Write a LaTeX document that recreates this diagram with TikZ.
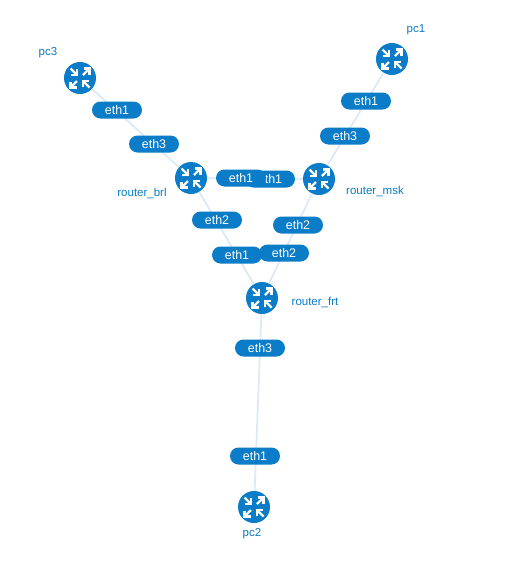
\documentclass[tikz,border=0pt]{standalone}
\usepackage{fontspec}
\setmainfont{Liberation Sans}
\definecolor{netblue}{HTML}{0A7CC8}
\definecolor{linkblue}{HTML}{DCEAF8}
\tikzset{
  x=1pt,y=-1pt,
  routernode/.style={circle,fill=netblue,minimum size=32pt,inner sep=0pt},
  namelabel/.style={text=netblue,font=\fontsize{11.5}{13}\selectfont,inner sep=0pt},
  portpill/.style={rounded corners=8.5pt,fill=netblue,text=white,minimum width=50pt,minimum height=17pt,inner sep=0pt,font=\fontsize{12.5}{14}\selectfont},
  linkline/.style={draw=linkblue,line width=1.8pt},
  glyph/.style={draw=white,line width=2.2pt,line cap=butt,join=miter},
  pics/routericon/.style={code={
    \draw[glyph] (-9.5,-9.5) -- (-3,-3);
    \draw[glyph] (-9,-3) -- (-3,-3) -- (-3,-9);
    \draw[glyph] (3,-3) -- (9.5,-9.5);
    \draw[glyph] (3.5,-9.5) -- (9.5,-9.5) -- (9.5,-3.5);
    \draw[glyph] (-3,3) -- (-9.5,9.5);
    \draw[glyph] (-9.5,3.5) -- (-9.5,9.5) -- (-3.5,9.5);
    \draw[glyph] (9.5,9.5) -- (3,3);
    \draw[glyph] (9,3) -- (3,3) -- (3,9);
  }}
}
\begin{document}
\begin{tikzpicture}
\useasboundingbox (0,0) rectangle (506,566);
\fill[white] (0,0) rectangle (506,566);
\coordinate (cpc3) at (80,78);
\coordinate (cpc1) at (392,59);
\coordinate (cbrl) at (191,178);
\coordinate (cmsk) at (319,179);
\coordinate (cfrt) at (262,298);
\coordinate (cpc2) at (254,507);
\node[routernode] (pc3) at (cpc3) {};
\node[routernode] (pc1) at (cpc1) {};
\node[routernode] (brl) at (cbrl) {};
\node[routernode] (msk) at (cmsk) {};
\node[routernode] (frt) at (cfrt) {};
\node[routernode] (pc2) at (cpc2) {};
\draw[linkline] (pc3) -- (brl);
\draw[linkline] (pc1) -- (msk);
\draw[linkline] (brl) -- (msk);
\draw[linkline] (brl) -- (frt);
\draw[linkline] (msk) -- (frt);
\draw[linkline] (frt) -- (pc2);
\foreach \c in {cpc3,cpc1,cbrl,cmsk,cfrt,cpc2} \pic at (\c) {routericon};
\node[namelabel] (lpc3) at (48,53) {pc3};
\node[namelabel] (lpc1) at (416,30) {pc1};
\node[namelabel] (lbrl) at (142,193.5) {router\_brl};
\node[namelabel] (lmsk) at (375,191.5) {router\_msk};
\node[namelabel] (lfrt) at (315,302.5) {router\_frt};
\node[namelabel] (lpc2) at (252,534) {pc2};
\node[portpill] (p1) at (117,110) {eth1};
\node[portpill] (p2) at (154,144) {eth3};
\node[portpill] (p3) at (366,101) {eth1};
\node[portpill] (p4) at (345,136) {eth3};
\node[portpill] (p5) at (270,179) {eth1};
\node[portpill] (p6) at (241,178) {eth1};
\node[portpill] (p7) at (217,220) {eth2};
\node[portpill] (p8) at (298,225) {eth2};
\node[portpill] (p9) at (237,255) {eth1};
\node[portpill] (p10) at (284,253) {eth2};
\node[portpill] (p11) at (260,348) {eth3};
\node[portpill] (p12) at (255,456) {eth1};
\end{tikzpicture}
\end{document}
